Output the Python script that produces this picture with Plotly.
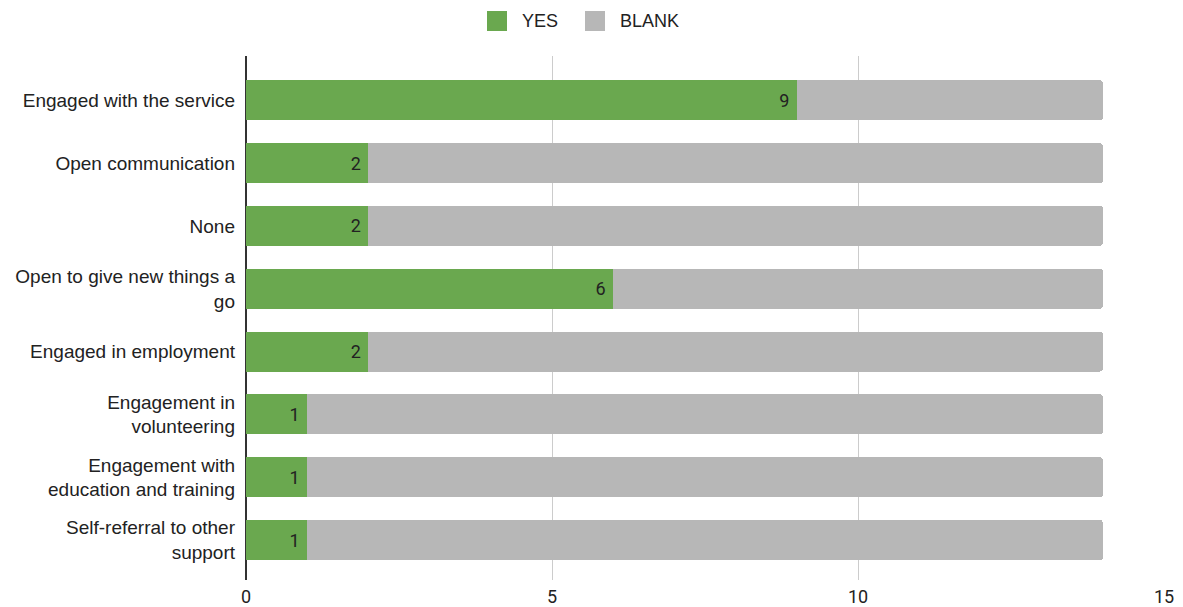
import plotly.graph_objects as go

categories = [
    "Engaged with the service",
    "Open communication",
    "None",
    "Open to give new things a<br>go",
    "Engaged in employment",
    "Engagement in<br>volunteering",
    "Engagement with<br>education and training",
    "Self-referral to other<br>support",
]
yes_values = [9, 2, 2, 6, 2, 1, 1, 1]
blank_values = [5, 12, 12, 8, 12, 13, 13, 13]
x_ticks = [0, 5, 10, 15]
series_names = ["YES", "BLANK"]
series_colors = ["#6aa84f", "#b7b7b7"]

fig = go.Figure()
fig.add_trace(go.Bar(
    y=categories, x=yes_values, name=series_names[0], orientation="h",
    marker=dict(color=series_colors[0], line=dict(width=0)),
    text=[f"{v}\u00a0" for v in yes_values], textposition="inside",
    insidetextanchor="end", textangle=0,
    textfont=dict(family="Roboto", size=18, color="#222222"),
    hoverinfo="x+y",
))
fig.add_trace(go.Bar(
    y=categories, x=blank_values, name=series_names[1], orientation="h",
    marker=dict(color=series_colors[1], line=dict(width=0)),
    hoverinfo="x+y",
))

# Custom legend (top centre) drawn with shapes and text
W, H = 1183, 607
L, R, T, B = 246, 19, 56, 27
pw, ph = W - L - R, H - T - B

def px_x(x):
    return (x - L) / pw

def px_y(y):
    return (H - B - y) / ph

legend_items = [(487, 520, 0), (585, 618, 1)]
shapes = []
annotations = []
for sx, tx, i in legend_items:
    shapes.append(dict(type="rect", xref="paper", yref="paper",
                       x0=px_x(sx), x1=px_x(sx + 20), y0=px_y(31), y1=px_y(11),
                       fillcolor=series_colors[i], line=dict(width=0), layer="above"))
    annotations.append(dict(xref="paper", yref="paper", x=px_x(tx), y=px_y(21),
                            xanchor="left", yanchor="middle", showarrow=False,
                            text=series_names[i],
                            font=dict(family="Liberation Sans", size=18, color="#222222")))

fig.update_layout(
    width=W, height=H,
    barmode="stack", bargap=0.364, barcornerradius=3,
    plot_bgcolor="white", paper_bgcolor="white",
    margin=dict(l=L, r=R, t=T, b=B, autoexpand=False),
    showlegend=False,
    shapes=shapes, annotations=annotations,
    font=dict(family="Liberation Sans", size=19, color="#222222"),
)
fig.update_xaxes(
    range=[0, 15], tickvals=x_ticks, ticktext=[str(t) for t in x_ticks],
    showgrid=True, gridcolor="#cccccc", gridwidth=1,
    zeroline=True, zerolinecolor="#333333", zerolinewidth=1.5,
    tickfont=dict(family="Roboto", size=18, color="#222222"),
    ticklabelstandoff=4, fixedrange=True, automargin=False,
)
fig.update_yaxes(
    type="category", categoryorder="array", categoryarray=categories,
    range=[7.636, -0.704], showgrid=False, zeroline=False,
    tickfont=dict(family="Liberation Sans", size=19, color="#222222"),
    ticklabelstandoff=10, fixedrange=True, automargin=False,
)

fig.write_html("out.html")
